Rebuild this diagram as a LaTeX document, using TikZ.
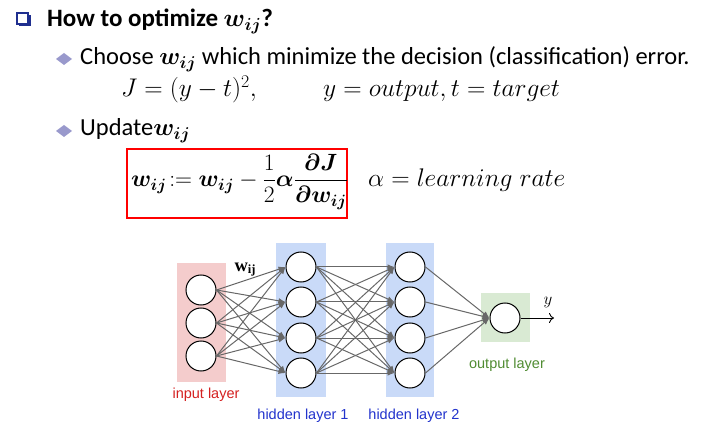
\RequirePackage{fix-cm}
\documentclass[tikz,border=0pt]{standalone}
\usepackage{amsmath}
\usepackage{bm}
\usepackage{fontspec}
\setmainfont{Carlito}
\newfontfamily\arialf{Liberation Sans}
\newfontfamily\timesf{Liberation Serif}
\usetikzlibrary{arrows.meta}
\definecolor{boxnavy}{HTML}{1F2F8F}
\definecolor{lavbullet}{HTML}{9999CC}
\definecolor{pinkbg}{HTML}{F4CCCC}
\definecolor{bluebg}{HTML}{C9DAF8}
\definecolor{greenbg}{HTML}{D9EAD3}
\definecolor{edgegray}{HTML}{686868}
\definecolor{lblred}{HTML}{D42020}
\definecolor{lblblue}{HTML}{2233CC}
\definecolor{lblgreen}{HTML}{508C32}
\tikzset{
  txt/.style={anchor=base west, inner sep=0pt, text=black},
  neuron/.style={circle, draw=black, line width=1pt, fill=white, minimum size=30pt, inner sep=0pt},
  edge/.style={draw=edgegray, line width=1pt, -{Latex[length=7pt,width=5.5pt]}},
  lbl/.style={font=\arialf\fontsize{14.5}{16}\selectfont, inner sep=0pt},
  bulletd/.style={fill=lavbullet},
}
\begin{document}
\begin{tikzpicture}[x=1pt,y=-1pt]
\useasboundingbox (0,0) rectangle (720,430);
% checkbox bullet
\draw[boxnavy, line width=1.1pt] (17,13) rectangle (28,24);
\draw[boxnavy, line width=2pt] (19,25) -- (29.5,25) -- (29.5,15);
% title
\node[txt] (title) at (47,27) {\fontsize{25}{29}\selectfont\bfseries How to optimize $\bm{w_{ij}}$?};
% bullet 1
\fill[bulletd] (56,59) -- (64,53) -- (72,59) -- (64,65) -- cycle;
\node[txt] (choose) at (80,65) {\fontsize{24.5}{28}\selectfont Choose $\bm{w_{ij}}$ which minimize the decision (classification) error.};
\node[txt] (jeq) at (121,97) {\fontsize{25.5}{29}\selectfont $J=(y-t)^2,$};
\node[txt] (yeq) at (323,97) {\fontsize{25.5}{29}\selectfont $y=output, t=target$};
% bullet 2
\fill[bulletd] (56,131) -- (64,125) -- (72,131) -- (64,137) -- cycle;
\node[txt] (upd) at (80,136) {\fontsize{24.5}{28}\selectfont Update$\bm{w_{ij}}$};
% red box formula
\draw[red, line width=1.5pt] (127,149) rectangle (347,218);
\node[anchor=west, inner sep=0pt] (rule) at (131,182) {\fontsize{23.5}{27}\selectfont $\displaystyle \bm{w_{ij}}\!:=\bm{w_{ij}}-\frac{1}{2}\bm{\alpha}\frac{\bm{\partial J}}{\bm{\partial w_{ij}}}$};
\node[txt] (alpha) at (368,187) {\fontsize{25.5}{29}\selectfont $\alpha = learning\;rate$};
% layer backgrounds
\fill[pinkbg] (177,263) rectangle (226,382);
\fill[bluebg] (276,243) rectangle (326,397);
\fill[bluebg] (386,243) rectangle (434,397);
\fill[greenbg] (481,293) rectangle (530,342);
% neurons
\node[neuron] (in1) at (201,290) {};
\node[neuron] (in2) at (201,323) {};
\node[neuron] (in3) at (201,356) {};
\node[neuron] (ha1) at (301,267) {};
\node[neuron] (ha2) at (301,302) {};
\node[neuron] (ha3) at (301,338) {};
\node[neuron] (ha4) at (301,373) {};
\node[neuron] (hb1) at (410,267) {};
\node[neuron] (hb2) at (410,302) {};
\node[neuron] (hb3) at (410,338) {};
\node[neuron] (hb4) at (410,373) {};
\node[neuron] (out) at (505,318) {};
% edges
\foreach \i in {1,2,3}{\foreach \j in {1,2,3,4}{\draw[edge] (in\i.east) -- (ha\j.west);}}
\foreach \i in {1,2,3,4}{\foreach \j in {1,2,3,4}{\draw[edge] (ha\i.east) -- (hb\j.west);}}
\foreach \i in {1,2,3,4}{\draw[edge] (hb\i.east) -- (out.west);}
\coordinate (yend) at (554,318);
\draw[black, line width=0.9pt, -{To[length=5pt,width=10pt]}] (out.east) -- (yend);
\node[inner sep=0pt] (ylbl) at (548,302) {\fontsize{17}{19}\selectfont $y$};
% labels
\node[inner sep=0pt] (wij) at (245,270) {\timesf\fontsize{18.5}{20}\selectfont\textbf{w}\raisebox{-2pt}{\fontsize{12.5}{13}\selectfont\textbf{ij}}};
\node[lbl, text=lblred] (inl) at (206,395) {input layer};
\node[lbl, text=lblblue] (h1l) at (303,416) {hidden layer 1};
\node[lbl, text=lblblue] (h2l) at (414,416) {hidden layer 2};
\node[lbl, text=lblgreen] (outl) at (507,365) {output layer};
\end{tikzpicture}
\end{document}
